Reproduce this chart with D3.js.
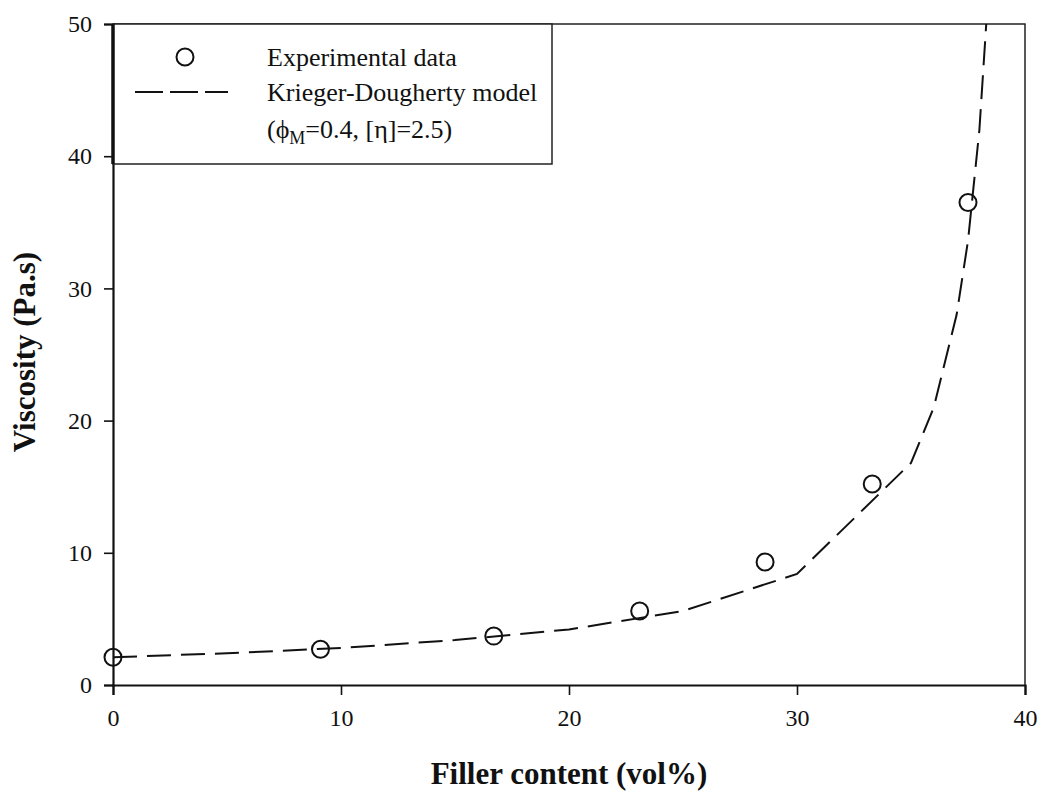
<!DOCTYPE html>
<html lang="en">
<head>
  <meta charset="UTF-8">
  <title>Viscosity vs filler content</title>
  <script src="https://d3js.org/d3.v7.min.js"></script>
  <style>
    body { margin: 0; background: #fff; }
    text { font-family: "Liberation Serif", "DejaVu Serif", serif; fill: #111; }
  </style>
</head>
<body>
<script>
// experimental points
var expX = [0, 9.1, 16.7, 23.1, 28.6, 33.3, 37.5];
var expY = [2.1, 2.7, 3.7, 5.6, 9.3, 15.2, 36.5];
// Krieger-Dougherty curve
var modelX = [0, 5, 10, 15, 20, 25, 30, 35, 36, 37, 37.5, 38, 38.3];
var modelY = [2.1, 2.4, 2.8, 3.4, 4.2, 5.6, 8.4, 16.8, 21, 28, 33.6, 42, 50];
var xTicks = [0, 10, 20, 30, 40];
var yTicks = [0, 10, 20, 30, 40, 50];

var W = 1043, H = 795,
  margin = {top: 24, right: 18, bottom: 110, left: 113};
var width = W - margin.left - margin.right,
  height = H - margin.top - margin.bottom;

var svg = d3.select("body").append("svg")
    .attr("width", W)
    .attr("height", H);
var g = svg.append("g").attr("transform", "translate(" + margin.left + "," + margin.top + ")");

var x = d3.scaleLinear().domain([0, 40]).range([0, width]);
var y = d3.scaleLinear().domain([0, 50]).range([height, 0]);

svg.append("defs").append("clipPath").attr("id", "clip")
  .append("rect").attr("width", width).attr("height", height);

// frame top/right
g.append("path")
    .attr("d", "M0,0H" + width + "V" + height)
    .attr("fill", "none").attr("stroke", "#222").attr("stroke-width", 1.5);

var xAxis = g.append("g")
    .attr("transform", "translate(0," + height + ")")
    .call(d3.axisBottom(x).tickValues(xTicks).tickSize(10).tickPadding(14).tickFormat(d3.format("d")));
var yAxis = g.append("g")
    .call(d3.axisLeft(y).tickValues(yTicks).tickSize(9).tickPadding(12).tickFormat(d3.format("d")));

[xAxis, yAxis].forEach(function(a) {
  a.select(".domain").attr("stroke", "#111").attr("stroke-width", 2.2);
  a.selectAll(".tick line").attr("stroke", "#111").attr("stroke-width", 1.6);
  a.selectAll(".tick text").style("font-size", "24px").attr("fill", "#111")
    .style("font-family", "'Liberation Serif', serif");
});

// curve
var line = d3.line()
    .x(function(d) { return x(d[0]); })
    .y(function(d) { return y(d[1]); });
g.append("path")
    .datum(d3.zip(modelX, modelY))
    .attr("clip-path", "url(#clip)")
    .attr("d", line)
    .attr("fill", "none")
    .attr("stroke", "#111")
    .attr("stroke-width", 2)
    .attr("stroke-dasharray", "24,10");

// points
g.selectAll("circle.pt")
  .data(d3.zip(expX, expY))
  .enter().append("circle")
    .attr("class", "pt")
    .attr("cx", function(d) { return x(d[0]); })
    .attr("cy", function(d) { return y(d[1]); })
    .attr("r", 8.5)
    .attr("fill", "none")
    .attr("stroke", "#111")
    .attr("stroke-width", 2);

// legend
var lg = g.append("g");
lg.append("rect")
    .attr("x", 0).attr("y", 0).attr("width", 439).attr("height", 140)
    .attr("fill", "#fff").attr("stroke", "#222").attr("stroke-width", 1.5);
lg.append("line").attr("x1", 0).attr("x2", 0).attr("y1", 0).attr("y2", 140)
    .attr("stroke", "#111").attr("stroke-width", 3.5);
lg.append("circle").attr("cx", 72).attr("cy", 33).attr("r", 8.5)
    .attr("fill", "none").attr("stroke", "#111").attr("stroke-width", 2);
lg.append("line").attr("x1", 22).attr("x2", 115).attr("y1", 68).attr("y2", 68)
    .attr("stroke", "#111").attr("stroke-width", 2).attr("stroke-dasharray", "28,7");
lg.append("text").attr("x", 154).attr("y", 42).style("font-size", "26px").text("Experimental data");
lg.append("text").attr("x", 154).attr("y", 77).style("font-size", "26px").text("Krieger-Dougherty model");
var t3 = lg.append("text").attr("x", 154).attr("y", 114).style("font-size", "26px");
t3.append("tspan").text("(\u03d5");
t3.append("tspan").attr("dy", 6).style("font-size", "18px").text("M");
t3.append("tspan").attr("dy", -6).text("=0.4, [\u03b7]=2.5)");

// axis titles
svg.append("text")
    .attr("x", margin.left + width / 2).attr("y", 784)
    .attr("text-anchor", "middle")
    .style("font-size", "31px").style("font-weight", "bold")
    .text("Filler content (vol%)");
svg.append("text")
    .attr("transform", "translate(35,352) rotate(-90)")
    .attr("text-anchor", "middle")
    .style("font-size", "31px").style("font-weight", "bold")
    .text("Viscosity (Pa.s)");
</script>
</body>
</html>
